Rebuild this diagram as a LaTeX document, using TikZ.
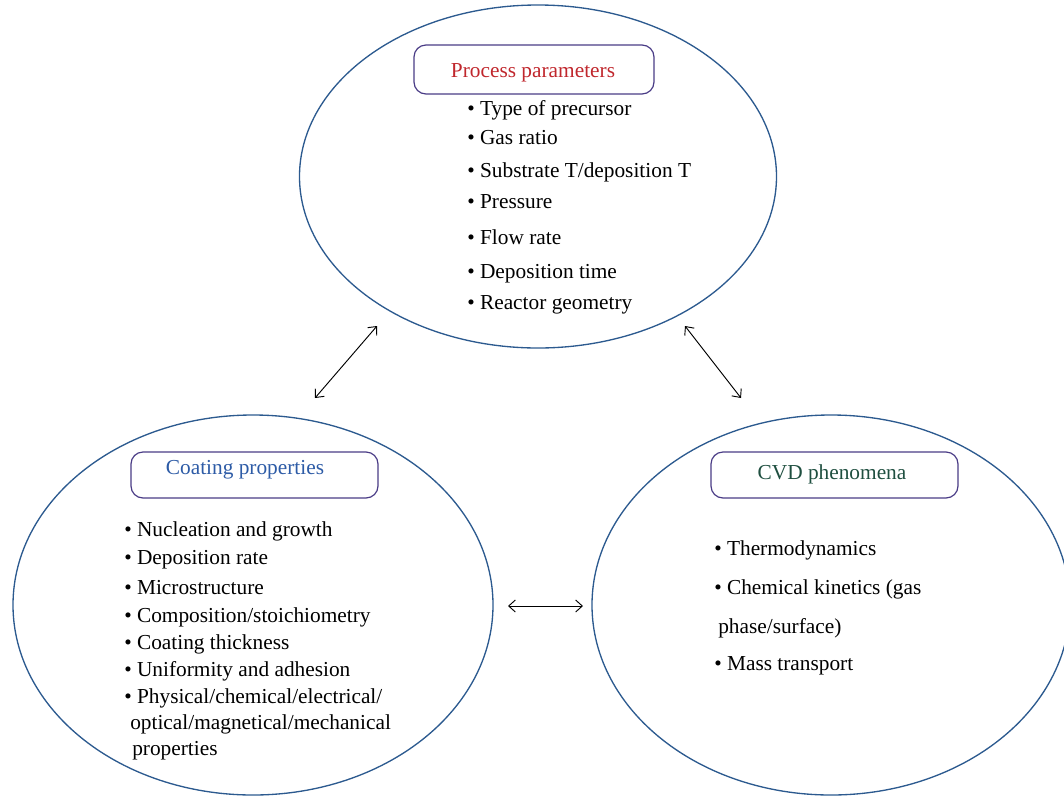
\documentclass[tikz,border=0pt]{standalone}
\usepackage{fontspec}
\setmainfont{Liberation Serif}
\usetikzlibrary{shapes.geometric,arrows.meta}
\definecolor{ellblue}{HTML}{2C5A8F}
\definecolor{boxpurple}{HTML}{4A3C86}
\definecolor{ppred}{HTML}{C0272D}
\definecolor{cpblue}{HTML}{2D5BA6}
\definecolor{cvdgreen}{HTML}{1F4F40}
\tikzset{
  bigell/.style={ellipse, draw=ellblue, line width=1pt, inner sep=0pt},
  labbox/.style={draw=boxpurple, line width=0.9pt, rounded corners=9pt, inner sep=0pt},
  labtext/.style={font=\fontsize{16}{19}\selectfont},
  item/.style={anchor=base west, inner sep=0pt, font=\fontsize{16}{19}\selectfont},
  dblarrow/.style={{Straight Barb[length=5pt,width=9pt]}-{Straight Barb[length=5pt,width=9pt]}, line width=0.7pt, black}
}
\begin{document}
\begin{tikzpicture}[x=0.75pt,y=-0.75pt]
\useasboundingbox (0,0) rectangle (1064,797);
% ellipses
\node[bigell, minimum width=357.75pt, minimum height=257.25pt] (top) at (538,176.5) {};
\node[bigell, minimum width=360pt, minimum height=285pt] (left) at (253,605) {};
\node[bigell, minimum width=358.5pt, minimum height=285pt] (right) at (831,605) {};
% label boxes
\node[labbox, minimum width=180pt, minimum height=36.75pt] (ppbox) at (534,69.5) {};
\node[labtext, text=ppred] (pptext) at (533,73) {Process parameters};
\node[labbox, minimum width=185.25pt, minimum height=34.5pt] (cpbox) at (254.5,475) {};
\node[labtext, text=cpblue] (cptext) at (245,470) {Coating properties};
\node[labbox, minimum width=185.25pt, minimum height=34.5pt] (cvdbox) at (834.5,475) {};
\node[labtext, text=cvdgreen] (cvdtext) at (832,474) {CVD phenomena};
% top list
\node[item] (t1) at (467,115) {• Type of precursor};
\node[item] (t2) at (467,144) {• Gas ratio};
\node[item] (t3) at (467,177) {• Substrate T/deposition T};
\node[item] (t4) at (467,208) {• Pressure};
\node[item] (t5) at (467,244) {• Flow rate};
\node[item] (t6) at (467,278) {• Deposition time};
\node[item] (t7) at (467,309) {• Reactor geometry};
% left list
\node[item] (l1) at (124,536) {• Nucleation and growth};
\node[item] (l2) at (124,564) {• Deposition rate};
\node[item] (l3) at (124,594) {• Microstructure};
\node[item] (l4) at (124,622) {• Composition/stoichiometry};
\node[item] (l5) at (124,649) {• Coating thickness};
\node[item] (l6) at (124,676) {• Uniformity and adhesion};
\node[item] (l7) at (124,703) {• Physical/chemical/electrical/};
\node[item] (l8) at (130,729) {optical/magnetical/mechanical};
\node[item] (l9) at (132,755) {properties};
% right list
\node[item] (r1) at (714,555) {• Thermodynamics};
\node[item] (r2) at (714,594) {• Chemical kinetics (gas};
\node[item] (r3) at (718,633) {phase/surface)};
\node[item] (r4) at (714,670) {• Mass transport};
% arrows
\coordinate (a1s) at (315,398);
\coordinate (a1e) at (377,326);
\coordinate (a2s) at (685,326);
\coordinate (a2e) at (741,398);
\coordinate (a3s) at (508,606);
\coordinate (a3e) at (583,606);
\draw[dblarrow] (a1s) -- (a1e);
\draw[dblarrow] (a2s) -- (a2e);
\draw[dblarrow] (a3s) -- (a3e);
\end{tikzpicture}
\end{document}
